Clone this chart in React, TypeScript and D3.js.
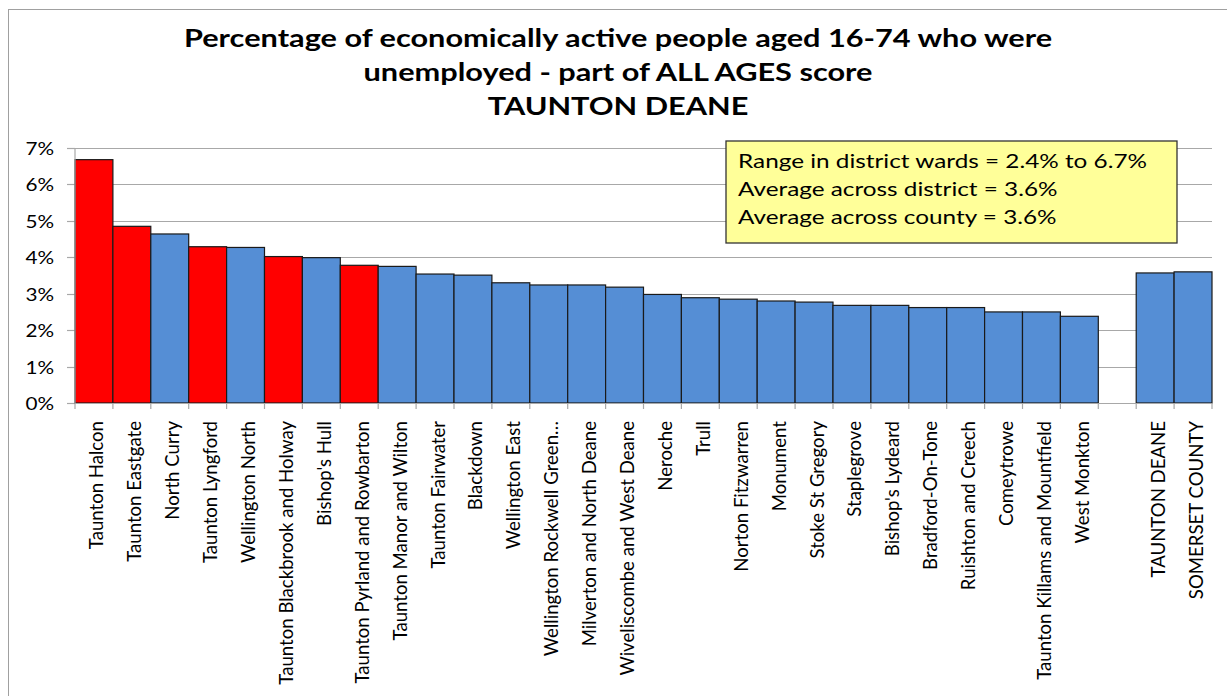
import { useEffect, useRef } from "react";
import * as d3 from "d3";

const WIDTH = 1227;
const HEIGHT = 696;

const WARDS = [
  "Taunton Halcon",
  "Taunton Eastgate",
  "North Curry",
  "Taunton Lyngford",
  "Wellington North",
  "Taunton Blackbrook and Holway",
  "Bishop's Hull",
  "Taunton Pyrland and Rowbarton",
  "Taunton Manor and Wilton",
  "Taunton Fairwater",
  "Blackdown",
  "Wellington East",
  "Wellington Rockwell Green\u2026",
  "Milverton and North Deane",
  "Wiveliscombe and West Deane",
  "Neroche",
  "Trull",
  "Norton Fitzwarren",
  "Monument",
  "Stoke St Gregory",
  "Staplegrove",
  "Bishop's Lydeard",
  "Bradford-On-Tone",
  "Ruishton and Creech",
  "Comeytrowe",
  "Taunton Killams and Mountfield",
  "West Monkton",
];
const WARD_VALUES = [
  6.68, 4.85, 4.64, 4.29, 4.27, 4.02, 3.99, 3.78, 3.75, 3.54, 3.51, 3.3, 3.24,
  3.24, 3.18, 2.98, 2.89, 2.85, 2.8, 2.77, 2.68, 2.68, 2.62, 2.62, 2.5, 2.5,
  2.38,
];
const HIGHLIGHTED = [
  "Taunton Halcon",
  "Taunton Eastgate",
  "Taunton Lyngford",
  "Taunton Blackbrook and Holway",
  "Taunton Pyrland and Rowbarton",
];
const AREAS = ["TAUNTON DEANE", "SOMERSET COUNTY"];
const AREA_VALUES = [3.57, 3.6];
const GAP_KEY = " ";

const Y_TICKS = [0, 1, 2, 3, 4, 5, 6, 7];
const TITLE_LINES = [
  "Percentage of economically active people aged 16-74 who were",
  "unemployed - part of ALL AGES score",
  "TAUNTON DEANE",
];
const NOTE_LINES = [
  "Range in district wards = 2.4% to 6.7%",
  "Average across district = 3.6%",
  "Average across county = 3.6%",
];

const COLOR_RED = "#ff0000";
const COLOR_BLUE = "#558ed5";
const COLOR_GRID = "#a8a8a8";
const FONT = "Lato, 'Open Sans', sans-serif";
// the original picture is stretched horizontally, so the flat text is widened
const STRETCH = 1.28;

const PLOT = { left: 75, right: 1212, top: 148, bottom: 403 };

export default function App() {
  const svgRef = useRef<SVGSVGElement>(null);

  useEffect(() => {
    const svg = d3.select(svgRef.current);
    svg.selectAll("*").remove();

    const rows = [
      ...WARDS.map((w, i) => ({ key: w, value: WARD_VALUES[i], red: HIGHLIGHTED.includes(w) })),
      { key: GAP_KEY, value: NaN, red: false },
      ...AREAS.map((a, i) => ({ key: a, value: AREA_VALUES[i], red: false })),
    ];

    const x = d3
      .scaleBand<string>()
      .domain(rows.map((r) => r.key))
      .range([PLOT.left, PLOT.right])
      .padding(0);
    const y = d3.scaleLinear().domain([0, 7]).range([PLOT.bottom, PLOT.top]);

    // outer chart border
    svg
      .append("rect")
      .attr("x", 8.5)
      .attr("y", 9.5)
      .attr("width", 1240)
      .attr("height", 720)
      .attr("fill", "none")
      .attr("stroke", "#a0a0a0")
      .attr("stroke-width", 1);

    // title
    TITLE_LINES.forEach((line, i) => {
      svg
        .append("text")
        .attr("transform", `translate(618,${47 + i * 34}) scale(${STRETCH},1)`)
        .attr("text-anchor", "middle")
        .attr("font-family", FONT)
        .attr("font-weight", "bold")
        .attr("font-size", "24px")
        .attr("fill", "#000")
        .text(line);
    });

    // gridlines + y ticks
    Y_TICKS.forEach((t) => {
      const gy = Math.round(y(t)) + 0.5;
      if (t > 0) {
        svg
          .append("line")
          .attr("x1", PLOT.left)
          .attr("x2", PLOT.right)
          .attr("y1", gy)
          .attr("y2", gy)
          .attr("stroke", COLOR_GRID)
          .attr("stroke-width", 1.2);
      }
      svg
        .append("line")
        .attr("x1", PLOT.left - 8)
        .attr("x2", PLOT.left)
        .attr("y1", gy)
        .attr("y2", gy)
        .attr("stroke", COLOR_GRID)
        .attr("stroke-width", 1.2);
      svg
        .append("text")
        .attr("transform", `translate(54,${gy + 6.5}) scale(1.15,1)`)
        .attr("text-anchor", "end")
        .attr("font-family", FONT)
        .attr("font-size", "18px")
        .attr("fill", "#000")
        .text(`${t}%`);
    });

    // bars
    rows
      .filter((r) => !isNaN(r.value))
      .forEach((r) => {
        svg
          .append("rect")
          .attr("x", x(r.key)!)
          .attr("y", y(r.value))
          .attr("width", x.bandwidth())
          .attr("height", y(0) - y(r.value))
          .attr("fill", r.red ? COLOR_RED : COLOR_BLUE)
          .attr("stroke", "#1a1a1a")
          .attr("stroke-width", 1.2);
      });

    // axes lines
    svg
      .append("line")
      .attr("x1", PLOT.left)
      .attr("x2", PLOT.left)
      .attr("y1", PLOT.top)
      .attr("y2", PLOT.bottom)
      .attr("stroke", COLOR_GRID)
      .attr("stroke-width", 1.2);
    svg
      .append("line")
      .attr("x1", PLOT.left)
      .attr("x2", PLOT.right)
      .attr("y1", PLOT.bottom + 0.5)
      .attr("y2", PLOT.bottom + 0.5)
      .attr("stroke", COLOR_GRID)
      .attr("stroke-width", 1.2);

    // x ticks at band edges
    const edges = rows.map((r) => x(r.key)!).concat([PLOT.right]);
    edges.forEach((ex) => {
      svg
        .append("line")
        .attr("x1", ex)
        .attr("x2", ex)
        .attr("y1", PLOT.bottom)
        .attr("y2", PLOT.bottom + 6)
        .attr("stroke", COLOR_GRID)
        .attr("stroke-width", 1.2);
    });

    // category labels (rotated)
    rows
      .filter((r) => r.key !== GAP_KEY)
      .forEach((r) => {
        const cx = x(r.key)! + x.bandwidth() / 2;
        svg
          .append("text")
          .attr("transform", `translate(${cx + 9.5},421) rotate(-90)`)
          .attr("text-anchor", "end")
          .attr("font-family", FONT)
          .attr("font-size", "18.6px")
          .attr("fill", "#000")
          .text(r.key);
      });

    // note box
    svg
      .append("rect")
      .attr("x", 726)
      .attr("y", 141)
      .attr("width", 451)
      .attr("height", 102)
      .attr("fill", "#ffff99")
      .attr("stroke", "#333")
      .attr("stroke-width", 1.3);
    NOTE_LINES.forEach((line, i) => {
      svg
        .append("text")
        .attr("transform", `translate(738,${167.5 + i * 28.3}) scale(${STRETCH},1)`)
        .attr("font-family", FONT)
        .attr("font-size", "19px")
        .attr("fill", "#000")
        .text(line);
    });
  }, []);

  return (
    <div style={{ position: "fixed", left: 0, top: 0, background: "#fff" }}>
      <svg ref={svgRef} width={WIDTH} height={HEIGHT} style={{ display: "block" }} />
    </div>
  );
}
